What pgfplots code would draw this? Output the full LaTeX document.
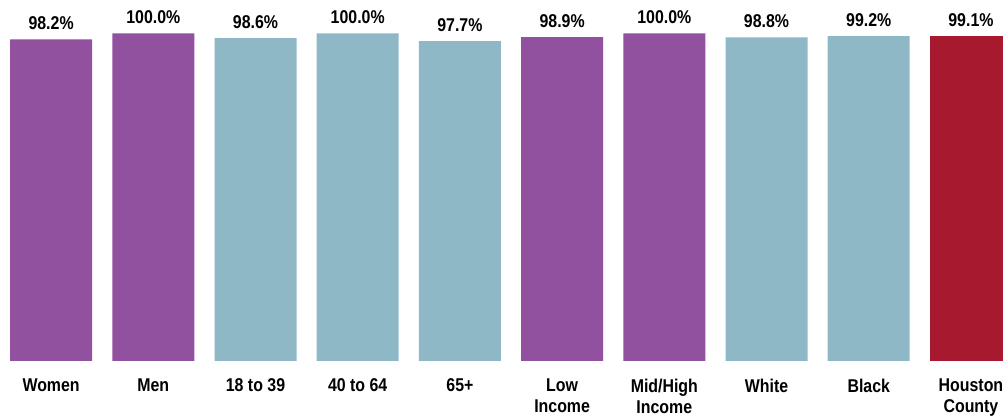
\documentclass[border=0pt]{standalone}
\usepackage{fontspec}
\setmainfont{Liberation Sans}
\newfontfamily\labfont[FakeStretch=0.86]{Liberation Sans}
\usepackage{pgfplots}
\pgfplotsset{compat=1.18}
\definecolor{cpurple}{RGB}{146,81,158}
\definecolor{cblue}{RGB}{143,184,199}
\definecolor{cred}{RGB}{166,25,46}
\begin{document}
\begin{tikzpicture}
\path[use as bounding box] (0,-56pt) rectangle (1003pt,361pt);
\begin{axis}[
  at={(0,0)}, anchor=south west,
  scale only axis, width=1022pt, height=327.5pt,
  xmin=-0.5, xmax=9.5, ymin=0, ymax=100,
  axis line style={draw=none}, tick style={draw=none},
  ytick=\empty,
  xtick={0,...,9},
  xticklabels={Women, Men, 18 to 39, 40 to 64, 65+, {Low\\Income}, {Mid/High\\Income}, White, Black, {Houston\\County}},
  xticklabel style={anchor=north, inner sep=0pt, yshift=-13.5pt, align=center,
    font=\labfont\bfseries\fontsize{18.5}{21}\selectfont},
  ybar, bar width=82pt, bar shift=0pt,
  nodes near coords={\pgfmathprintnumber[fixed, fixed zerofill, precision=1, assume math mode=true]{\pgfplotspointmeta}\%},
  every node near coord/.append style={anchor=base, inner sep=0pt, yshift=10pt,
    font=\labfont\bfseries\fontsize{18.5}{21}\selectfont, text=black},
  clip=false,
]
\addplot[draw=none, fill=cpurple] coordinates {(0,98.2) (1,100.0) (5,98.9) (6,100.0)};
\addplot[draw=none, fill=cblue] coordinates {(2,98.6) (3,100.0) (4,97.7) (7,98.8) (8,99.2)};
\addplot[draw=none, fill=cred] coordinates {(9,99.1)};
\end{axis}
\end{tikzpicture}
\end{document}
